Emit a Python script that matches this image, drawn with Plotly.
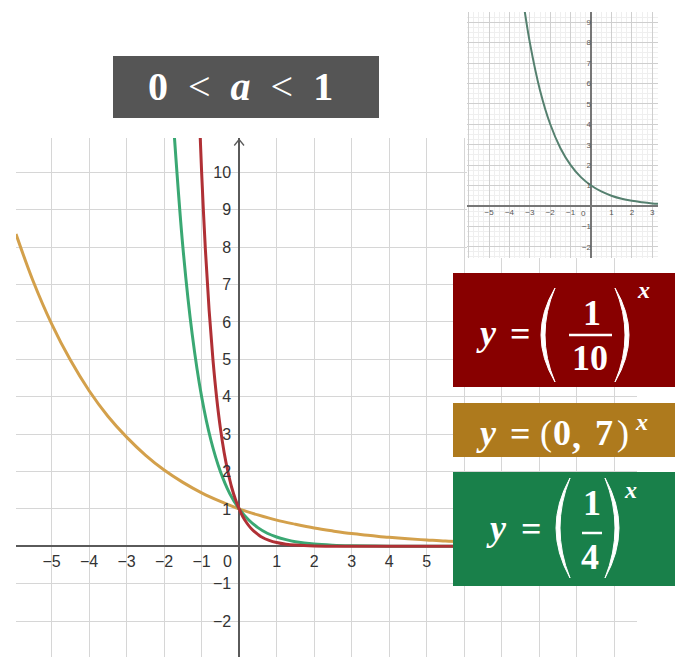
import plotly.graph_objects as go

# ---------------- data ----------------
gold_x = [-5.95, -5.5, -5, -4.5, -4, -3.5, -3, -2.5, -2, -1.5, -1, -0.5, 0, 0.5, 1, 1.5, 2, 2.5, 3, 3.5, 4, 4.5, 5, 5.5, 6]
gold_y = [8.35, 7.11, 5.95, 4.98, 4.16, 3.48, 2.92, 2.44, 2.04, 1.71, 1.43, 1.20, 1.00, 0.84, 0.70, 0.59, 0.49, 0.41, 0.34, 0.29, 0.24, 0.20, 0.17, 0.14, 0.12]

green_x = [-1.80, -1.75, -1.5, -1.25, -1, -0.75, -0.5, -0.25, 0, 0.25, 0.5, 0.75, 1, 1.25, 1.5, 2, 2.5, 3, 4, 5, 6]
green_y = [12.1, 11.3, 8.0, 5.66, 4.0, 2.83, 2.0, 1.41, 1.0, 0.71, 0.5, 0.35, 0.25, 0.18, 0.125, 0.06, 0.03, 0.016, 0.004, 0.001, 0.0]

red_x = [-1.06, -1, -0.9, -0.8, -0.7, -0.6, -0.5, -0.4, -0.3, -0.2, -0.1, 0, 0.1, 0.2, 0.3, 0.4, 0.5, 0.6, 0.8, 1, 1.25, 1.5, 2, 3, 4, 5, 6]
red_y = [11.5, 10.0, 7.94, 6.31, 5.01, 3.98, 3.16, 2.51, 2.0, 1.58, 1.26, 1.0, 0.79, 0.63, 0.5, 0.4, 0.32, 0.25, 0.16, 0.1, 0.056, 0.032, 0.01, 0.001, 0.0, 0.0, 0.0]

inset_x = [-3.35, -3, -2.5, -2, -1.5, -1, -0.5, 0, 0.5, 1, 1.5, 2, 2.5, 3, 3.3]
inset_y = [10.2, 8.0, 5.66, 4.0, 2.83, 2.0, 1.41, 1.0, 0.71, 0.5, 0.35, 0.25, 0.18, 0.125, 0.10]

main_x_ticks = list(range(-5, 11))
main_x_labels = ["−5", "−4", "−3", "−2", "−1", "", "1", "2", "3", "4", "5", "", "", "", "", ""]
main_y_ticks = list(range(-2, 11))
main_y_labels = ["−2", "−1", "", "1", "2", "3", "4", "5", "6", "7", "8", "9", "10"]

inset_x_ticks = list(range(-6, 4))
inset_x_labels = ["", "−5", "−4", "−3", "−2", "−1", "", "1", "2", "3"]
inset_y_ticks = list(range(-2, 10))
inset_y_labels = ["−2", "−1", "", "1", "2", "3", "4", "5", "6", "7", "8", "9"]

title_text = "<b>0</b>\u2002&lt;\u2002<b><i>a</i></b>\u2002&lt;\u2002<b>1</b>"

# ---------------- layout helpers ----------------
W, H = 680, 657
SERIF = "Liberation Serif"
SANS = "Liberation Sans"


def px(x):
    return x / W


def py(y):
    return 1 - y / H


# main axes geometry
MX_DOM = [16 / W, 637 / W]
MX_RNG = [-5.95, 10.61]
MY_DOM = [0, py(138)]
MY_RNG = [-2.96, 10.92]
# inset axes geometry
IX_DOM = [467 / W, 658 / W]
IX_RNG = [-6.08, 3.28]
IY_DOM = [py(258), py(12)]
IY_RNG = [-2.55, 9.5]


def zero_pos(dom, rng):
    return dom[0] + (0 - rng[0]) / (rng[1] - rng[0]) * (dom[1] - dom[0])


fig = go.Figure()

fig.add_trace(go.Scatter(x=gold_x, y=gold_y, mode="lines", line=dict(color="#d3a04b", width=3, shape="spline"),
                         xaxis="x", yaxis="y", hoverinfo="skip"))
fig.add_trace(go.Scatter(x=green_x, y=green_y, mode="lines", line=dict(color="#3aa873", width=3, shape="spline"),
                         xaxis="x", yaxis="y", hoverinfo="skip"))
fig.add_trace(go.Scatter(x=red_x, y=red_y, mode="lines", line=dict(color="#b03035", width=3, shape="spline"),
                         xaxis="x", yaxis="y", hoverinfo="skip"))
fig.add_trace(go.Scatter(x=inset_x, y=inset_y, mode="lines", line=dict(color="#55806f", width=2, shape="spline"),
                         xaxis="x2", yaxis="y2", hoverinfo="skip"))

grid_main = "#d6d6d6"
axis_main = dict(showgrid=True, gridcolor=grid_main, gridwidth=1, zeroline=True, zerolinecolor="#5a5a5a",
                 zerolinewidth=1.5, showline=False, ticks="", tickmode="array", anchor="free",
                 tickfont=dict(family=SANS, size=16, color="#333333"), fixedrange=True)

inset_common = dict(showgrid=True, gridcolor="#cfcfcf", gridwidth=1, zeroline=True, zerolinecolor="#777777",
                    zerolinewidth=1.8, showline=False, ticks="", tickmode="array", anchor="free",
                    tickfont=dict(family=SANS, size=8, color="#555555"), fixedrange=True,
                    minor=dict(tickmode="linear", tick0=0, dtick=0.25, showgrid=True, gridcolor="#efefef", gridwidth=1))

fig.update_layout(
    width=W, height=H, autosize=False,
    margin=dict(l=0, r=0, t=0, b=0),
    paper_bgcolor="white", plot_bgcolor="white",
    showlegend=False,
    xaxis=dict(axis_main, domain=MX_DOM, range=MX_RNG, tickvals=main_x_ticks, ticktext=main_x_labels,
               position=zero_pos(MY_DOM, MY_RNG), ticklabelstandoff=4),
    yaxis=dict(axis_main, domain=MY_DOM, range=MY_RNG, tickvals=main_y_ticks, ticktext=main_y_labels,
               position=zero_pos(MX_DOM, MX_RNG), ticklabelstandoff=8),
    xaxis2=dict(inset_common, domain=IX_DOM, range=IX_RNG, tickvals=inset_x_ticks, ticktext=inset_x_labels,
                position=zero_pos(IY_DOM, IY_RNG)),
    yaxis2=dict(inset_common, domain=IY_DOM, range=IY_RNG, tickvals=inset_y_ticks, ticktext=inset_y_labels,
                position=zero_pos(IX_DOM, IX_RNG)),
)

shapes = []


def rect(x0, y0, x1, y1, color):
    shapes.append(dict(type="rect", xref="paper", yref="paper", x0=px(x0), x1=px(x1), y0=py(y1), y1=py(y0),
                       fillcolor=color, line=dict(width=0), layer="above"))


def hline(x0, x1, y, width=2.5):
    shapes.append(dict(type="line", xref="paper", yref="paper", x0=px(x0), x1=px(x1), y0=py(y), y1=py(y),
                       line=dict(color="white", width=width), layer="above"))


def paren(xe, ytop, ybot, outer, inner):
    ym = (ytop + ybot) / 2
    path = (f"M {px(xe)},{py(ytop)} Q {px(outer)},{py(ym)} {px(xe)},{py(ybot)} "
            f"Q {px(inner)},{py(ym)} {px(xe)},{py(ytop)} Z")
    shapes.append(dict(type="path", xref="paper", yref="paper", path=path, fillcolor="white",
                       line=dict(color="white", width=1), layer="above"))


rect(113, 56, 379, 118, "#555555")
rect(453, 273, 675, 387, "#880000")
rect(453, 403, 675, 457, "#ae7a1d")
rect(453, 472, 675, 586, "#19804a")

# fraction bars and big parentheses
hline(569, 612, 335)
hline(582, 602, 533)
paren(555, 288, 382, 527, 535)
paren(615, 288, 382, 643, 635)
paren(570, 478, 578, 542, 550)
paren(605, 478, 578, 633, 625)

# arrow head on the main y axis
for s in (-1, 1):
    shapes.append(dict(type="line", xref="x", yref="y", x0=0, y0=10.88, x1=0.13 * s, y1=10.72,
                       line=dict(color="#5a5a5a", width=1.3), layer="above"))

fig.update_layout(shapes=shapes)

ann = []


def txt(x, y, s, size, family=SERIF, color="white", ref="paper"):
    if ref == "paper":
        ann.append(dict(x=px(x), y=py(y), xref="paper", yref="paper", text=s, showarrow=False,
                        font=dict(family=family, size=size, color=color), xanchor="center", yanchor="middle"))
    else:
        ann.append(dict(x=x, y=y, xref=ref[0], yref=ref[1], text=s, showarrow=False,
                        font=dict(family=family, size=size, color=color), xanchor="center", yanchor="middle"))


# title
txt(240, 87, title_text, 40)

# red box: y = (1/10)^x
txt(486, 333, "<b><i>y</i></b>", 36)
txt(520, 334, "<b>=</b>", 36)
txt(592, 313, "<b>1</b>", 36)
txt(590, 358, "<b>10</b>", 36)
txt(643, 290, "<b><i>x</i></b>", 24)

# gold box: y = (0,7)^x
txt(486, 433, "<b><i>y</i></b>", 36)
txt(520, 434, "<b>=</b>", 36)
txt(546, 433, "(", 36)
txt(562, 433, "<b>0</b>", 36)
txt(576, 436, "<b>,</b>", 36)
txt(604, 433, "<b>7</b>", 36)
txt(623, 433, ")", 36)
txt(641, 422, "<b><i>x</i></b>", 24)

# green box: y = (1/4)^x
txt(497, 528, "<b><i>y</i></b>", 36)
txt(531, 529, "<b>=</b>", 36)
txt(592, 503, "<b>1</b>", 36)
txt(590, 557, "<b>4</b>", 36)
txt(630, 490, "<b><i>x</i></b>", 24)

# origin labels
txt(-0.32, -0.4, "0", 16, family=SANS, color="#333333", ref=("x", "y"))
txt(-0.35, -0.35, "0", 8, family=SANS, color="#555555", ref=("x2", "y2"))

fig.update_layout(annotations=ann)

fig.write_html("out.html", config={"displayModeBar": False},
               post_script="document.body.style.margin='0px';document.body.style.overflow='hidden';")
